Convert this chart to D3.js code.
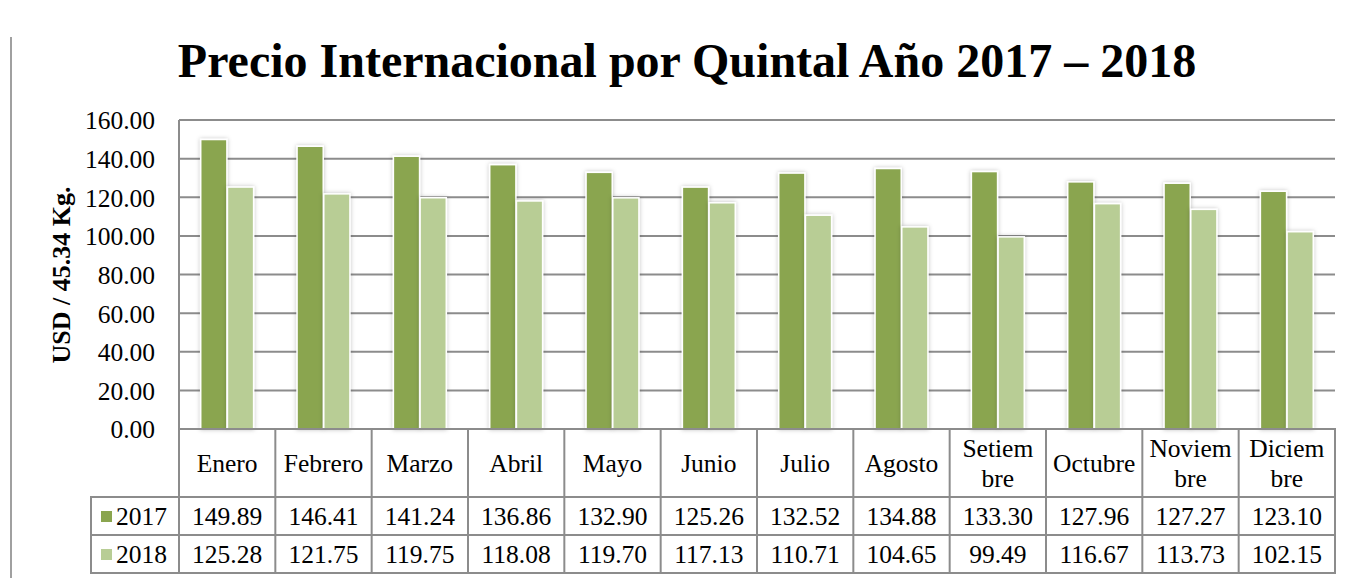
<!DOCTYPE html>
<html><head><meta charset="utf-8">
<script src="https://cdn.jsdelivr.net/npm/d3@7"></script>
<style>body{margin:0;background:#fff}svg{display:block}</style>
</head><body>
<svg id="c" width="1352" height="578"></svg>
<script>
const months = ["Enero","Febrero","Marzo","Abril","Mayo","Junio","Julio","Agosto","Setiembre","Octubre","Noviembre","Diciembre"];
const monthLines = [["Enero"],["Febrero"],["Marzo"],["Abril"],["Mayo"],["Junio"],["Julio"],["Agosto"],["Setiem","bre"],["Octubre"],["Noviem","bre"],["Diciem","bre"]];
const seriesNames = ["2017","2018"];
const values2017 = [149.89,146.41,141.24,136.86,132.90,125.26,132.52,134.88,133.30,127.96,127.27,123.10];
const values2018 = [125.28,121.75,119.75,118.08,119.70,117.13,110.71,104.65,99.49,116.67,113.73,102.15];
const yTicks = [0,20,40,60,80,100,120,140,160];
const title = "Precio Internacional por Quintal Año 2017 – 2018";
const yLabel = "USD / 45.34 Kg.";

const colors = ["#8aa54f","#b8cd95"];
const series = [values2017, values2018];
const svg = d3.select("#c");
const font = "'Liberation Serif','Times New Roman',serif";
const L=179, R=1335, T=120, B=429;
const grid="#8c8c8c";

const defs = svg.append("defs");
const f = defs.append("filter").attr("id","sh").attr("x","-30%").attr("y","-10%").attr("width","160%").attr("height","120%");
f.append("feDropShadow").attr("dx",0).attr("dy",0).attr("stdDeviation",2).attr("flood-color","#000").attr("flood-opacity",0.25);

// left decorative line
svg.append("line").attr("x1",11).attr("x2",11).attr("y1",37).attr("y2",578).attr("stroke","#a0a0a0").attr("stroke-width",2);

svg.append("text").attr("x",687).attr("y",77).attr("text-anchor","middle")
  .attr("font-family",font).attr("font-weight","bold").attr("font-size",48).text(title);

const y = d3.scaleLinear().domain([0,160]).range([B,T]);
const x0 = d3.scaleBand().domain(months).range([L,R]).paddingInner(0.44).paddingOuter(0.22);
const x1 = d3.scaleBand().domain(seriesNames).range([0,x0.bandwidth()]).padding(0.02);

// gridlines
svg.append("g").selectAll("line").data(yTicks.filter(d=>d>0)).join("line")
  .attr("x1",L).attr("x2",R).attr("y1",d=>y(d)).attr("y2",d=>y(d))
  .attr("stroke",grid).attr("stroke-width",2);

// y axis
const yAxis = d3.axisLeft(y).tickValues(yTicks).tickFormat(d3.format(".2f")).tickSize(0).tickPadding(24);
const ga = svg.append("g").attr("transform",`translate(${L},0)`).call(yAxis);
ga.select(".domain").remove();
ga.selectAll("text").attr("font-family",font).attr("font-size",25.5).attr("fill","#000").attr("dy","0.35em");
svg.append("line").attr("x1",L).attr("x2",L).attr("y1",T).attr("y2",B).attr("stroke",grid).attr("stroke-width",2);

svg.append("text").attr("transform",`translate(70,275) rotate(-90)`).attr("text-anchor","middle")
  .attr("font-family",font).attr("font-weight","bold").attr("font-size",26).text(yLabel);

// bars
const gb = svg.append("g");
months.forEach((m,i)=>{
  seriesNames.forEach((s,j)=>{
    const v = series[j][i];
    gb.append("rect").attr("x",x0(m)+x1(s)).attr("width",x1.bandwidth())
      .attr("y",y(v)).attr("height",B-y(v))
      .attr("fill",colors[j]).attr("stroke","#fff").attr("stroke-width",1.5)
      .attr("filter","url(#sh)");
  });
});

// data table
const rowTop=[B,497,535], rowBot=[497,535,573];
const step = x0.step();
const tg = svg.append("g");
months.forEach((m,i)=>{
  const cx = L + step*i + step/2;
  const lines = monthLines[i];
  const cy = (B+497)/2;
  lines.forEach((t,k)=>{
    const ly = cy + (k-(lines.length-1)/2)*30;
    tg.append("text").attr("x",cx).attr("y",ly).attr("dy","0.35em").attr("text-anchor","middle")
      .attr("font-family",font).attr("font-size",25.5).text(t);
  });
  series.forEach((arr,j)=>{
    tg.append("text").attr("x",cx).attr("y",(rowTop[j+1]+rowBot[j+1])/2).attr("dy","0.35em").attr("text-anchor","middle")
      .attr("font-family",font).attr("font-size",25.5).text(d3.format(".2f")(arr[i]));
  });
});
seriesNames.forEach((s,j)=>{
  const cy=(rowTop[j+1]+rowBot[j+1])/2;
  tg.append("rect").attr("x",101).attr("y",cy-5).attr("width",11).attr("height",11).attr("fill",colors[j]);
  tg.append("text").attr("x",116).attr("y",cy).attr("dy","0.35em").attr("font-family",font).attr("font-size",25.5).text(s);
});
const lines=[];
lines.push([L,B,R,B]);
lines.push([91,497,R,497]);
lines.push([91,535,R,535]);
lines.push([91,573,R,573]);
lines.push([91,497,91,573]);
for(let i=0;i<=12;i++){ const xx=L+step*i; lines.push([xx,B,xx,573]); }
tg.selectAll("line.t").data(lines).join("line").attr("class","t")
  .attr("x1",d=>d[0]).attr("y1",d=>d[1]).attr("x2",d=>d[2]).attr("y2",d=>d[3])
  .attr("stroke",grid).attr("stroke-width",2).attr("stroke-linecap","square");
</script>
</body></html>
